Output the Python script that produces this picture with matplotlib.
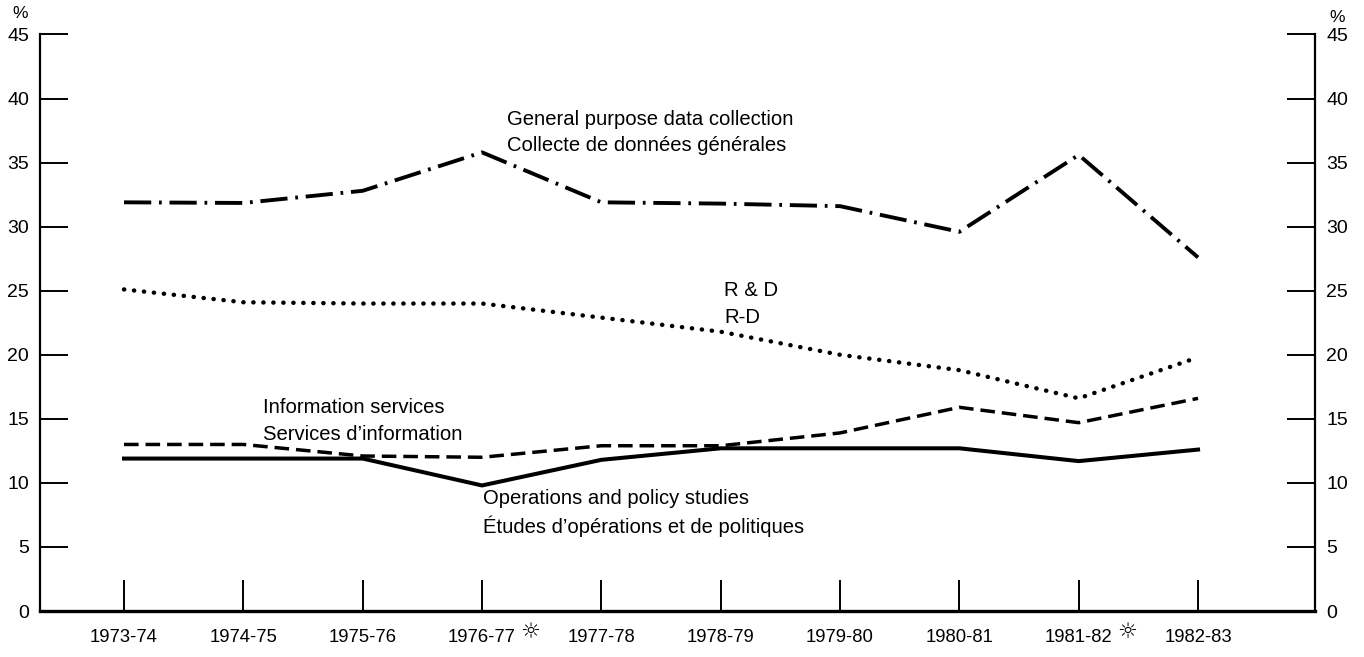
import numpy as np
import matplotlib
matplotlib.use("Agg")
import matplotlib.pyplot as plt

# years on the x axis
years = ["1973-74", "1974-75", "1975-76", "1976-77", "1977-78",
         "1978-79", "1979-80", "1980-81", "1981-82", "1982-83"]
starred = ["1976-77", "1981-82"]

# percentages
general_data = [31.9, 31.85, 32.8, 35.8, 31.9, 31.8, 31.6, 29.6, 35.6, 27.6]
r_and_d = [25.1, 24.1, 24.0, 24.0, 22.9, 21.8, 20.0, 18.8, 16.6, 19.8]
info_services = [13.0, 13.0, 12.1, 12.0, 12.9, 12.9, 13.9, 15.9, 14.7, 16.6]
operations = [11.9, 11.9, 11.9, 9.8, 11.8, 12.7, 12.7, 12.7, 11.7, 12.6]

y_ticks = [0, 5, 10, 15, 20, 25, 30, 35, 40, 45]

plt.rcParams['font.family'] = ['Liberation Sans', 'DejaVu Sans']

fig = plt.figure(figsize=(13.64, 6.57), dpi=100)
ax = fig.add_axes([40 / 1364, 0.070, 1275 / 1364, 0.8775])

x = np.arange(len(years))

ax.plot(x, general_data, color='black', lw=2.8,
        linestyle=(0, (7.0, 2.0, 0.7, 2.0)), solid_capstyle='butt')
ax.plot(x, r_and_d, color='black', lw=3.2,
        linestyle=(0, (0.05, 2.2)), dash_capstyle='round')
ax.plot(x, info_services, color='black', lw=2.5,
        linestyle=(0, (4.2, 2.0)))
ax.plot(x, operations, color='black', lw=2.9, solid_joinstyle='miter')

ax.set_xlim(-0.704, 9.98)
ax.set_ylim(0, 45)

ax.spines['top'].set_visible(False)
ax.spines['left'].set_linewidth(1.6)
ax.spines['right'].set_linewidth(1.6)
ax.spines['bottom'].set_linewidth(2.4)

ax.set_yticks(y_ticks)
ax.set_yticklabels([str(v) for v in y_ticks])
ax.yaxis.set_ticks_position('both')
ax.tick_params(axis='y', which='major', direction='in', length=20, width=1.4,
               labelsize=14, pad=8, labelright=True, labelleft=True)

ax.set_xticks(x)
ax.set_xticklabels(years)
ax.tick_params(axis='x', which='major', direction='in', length=22, width=1.4,
               labelsize=13.3, pad=13)

for lab in starred:
    i = years.index(lab)
    ax.annotate("\u263c", xy=(i, 0), xycoords='data', xytext=(35, -15),
                textcoords='offset points', ha='center', va='center',
                fontsize=16, family='DejaVu Sans', annotation_clip=False)

# percent signs above the axes
fig.text(20 / 1364, 1 - 14 / 657, "%", fontsize=12.5, ha='center', va='center')
fig.text(1337 / 1364, 1 - 17 / 657, "%", fontsize=12.5, ha='center', va='center')

# series labels
lbl = dict(fontsize=14.6, ha='left', va='center')
ax.text(3.21, 38.4, "General purpose data collection", **lbl)
ax.text(3.21, 36.3, "Collecte de données générales", **lbl)
ax.text(5.03, 25.0, "R & D", **lbl)
ax.text(5.03, 22.9, "R-D", **lbl)
ax.text(1.165, 15.9, "Information services", **lbl)
ax.text(1.165, 13.8, "Services d\u2019information", **lbl)
ax.text(3.01, 8.8, "Operations and policy studies", **lbl)
ax.text(3.01, 6.6, "Études d\u2019opérations et de politiques", **lbl)

fig.savefig("out.png", dpi=100)
